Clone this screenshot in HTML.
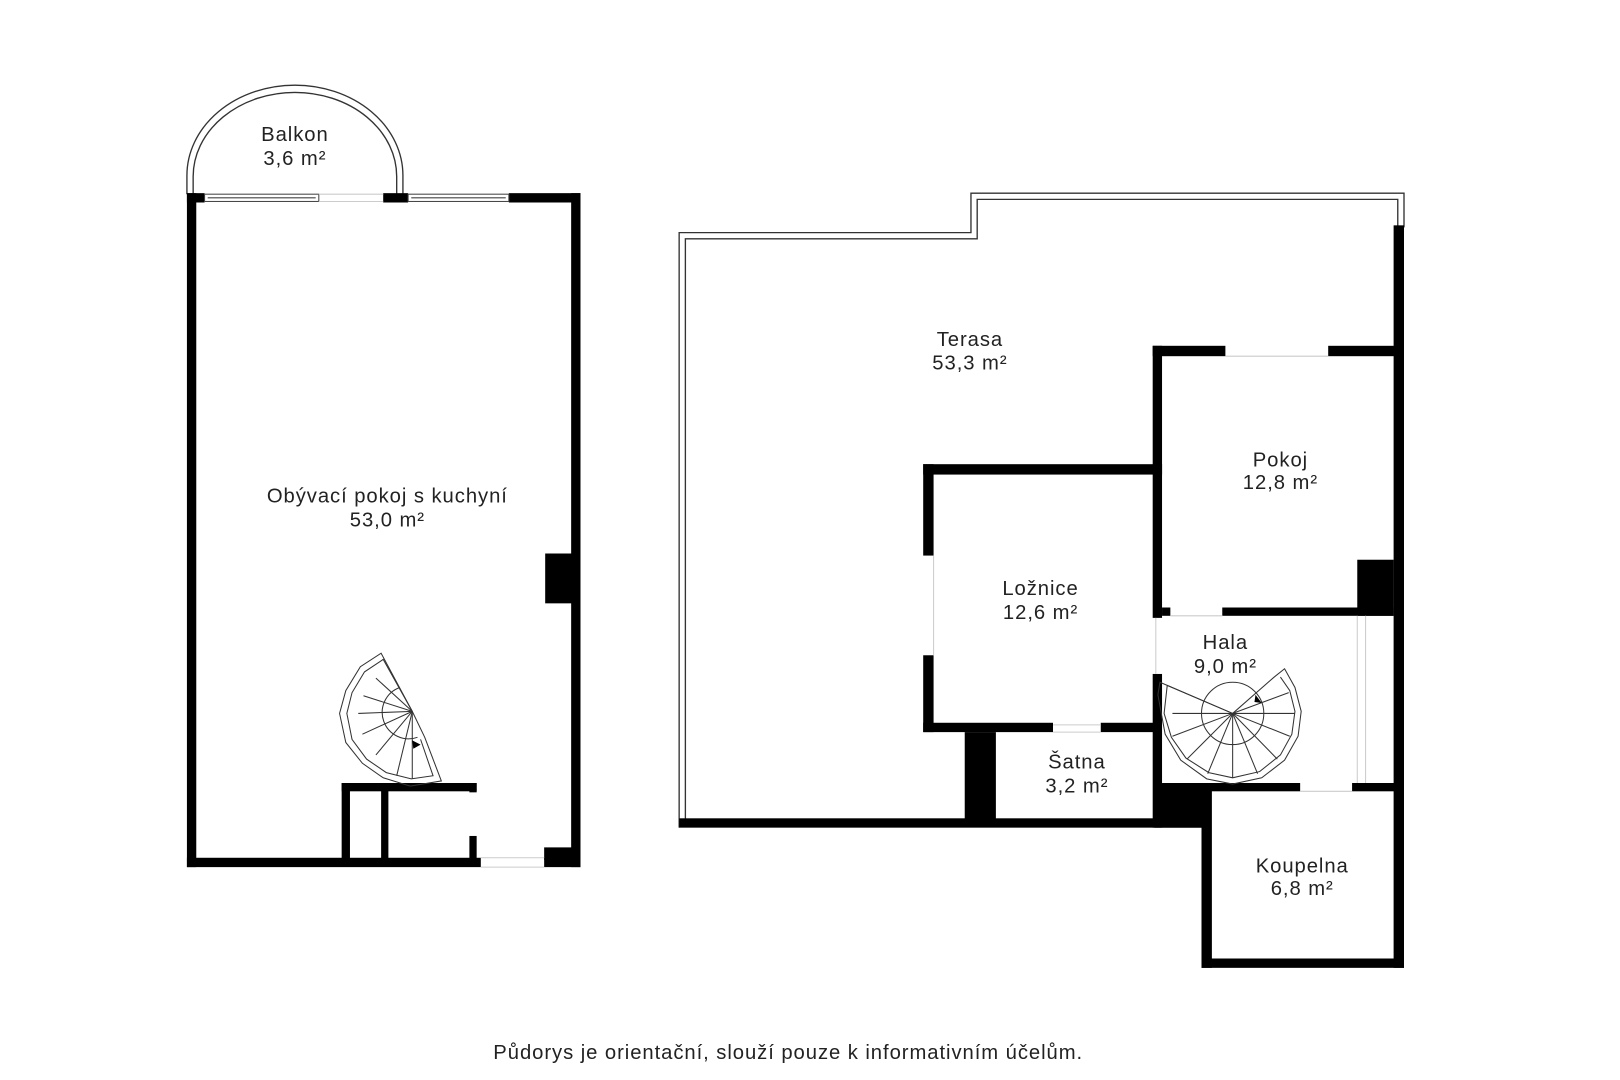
<!DOCTYPE html>
<html><head><meta charset="utf-8"><style>
html,body{margin:0;padding:0;background:#fff;}
svg{display:block;}
text{font-family:"Liberation Sans","DejaVu Sans",sans-serif;font-size:19.5px;fill:#222;text-anchor:middle;letter-spacing:0.9px;}
</style></head><body>
<svg width="1620" height="1080" viewBox="3 3 1560 1040" xmlns="http://www.w3.org/2000/svg">
<rect x="0" y="0" width="1570" height="1050" fill="#fff"/>
<!-- Balcony -->
<path d="M183 190 L183 172 A104 87 0 0 1 391 172 L391 190" fill="none" stroke="#333" stroke-width="1.3"/>
<path d="M189 190 L189 173 A98 81 0 0 1 385 173 L385 190" fill="none" stroke="#333" stroke-width="1.3"/>
<!-- Left building walls -->
<g fill="#000">
<rect x="183" y="189" width="17" height="9"/>
<rect x="372" y="189" width="24" height="9"/>
<rect x="493" y="189" width="69" height="9"/>
<rect x="183" y="189" width="9" height="649"/>
<rect x="553" y="189" width="9" height="649"/>
<rect x="183" y="829" width="283" height="9"/>
<rect x="527" y="829" width="35" height="9"/>
<rect x="527" y="819" width="30" height="12"/>
<rect x="528" y="536" width="27" height="48"/>
<rect x="332" y="757" width="130" height="8"/>
<rect x="332" y="757" width="8" height="75"/>
<rect x="370" y="757" width="7" height="75"/>
<rect x="455" y="757" width="7" height="9"/>
<rect x="455" y="808" width="7" height="24"/>
</g>
<g fill="none" stroke="#444" stroke-width="1">
<rect x="200" y="190" width="110" height="7"/><line x1="203" y1="193.5" x2="307" y2="193.5"/>
<rect x="396" y="190" width="97" height="7"/><line x1="399" y1="193.5" x2="490" y2="193.5"/>
<line x1="310" y1="190" x2="372" y2="190" stroke="#ccc"/><line x1="310" y1="197" x2="372" y2="197" stroke="#ccc"/>
<line x1="466" y1="829" x2="527" y2="829" stroke="#ccc"/><line x1="466" y1="838" x2="527" y2="838" stroke="#ccc"/>
</g>
<!-- Left spiral stair -->
<g fill="none" stroke="#333" stroke-width="1">
<path d="M400 688 L370 632 L350 645 L336 668 L330 690 L336 718 L352 738 L372 752 L398 760 L428 755 L412 713 Z"/>
<path d="M400 688 L372 638 L354 650 L342 670 L337 690 L342 715 L356 734 L375 747 L399 753 L420 750 L408 715"/>
<line x1="400" y1="688" x2="365" y2="656"/><line x1="400" y1="688" x2="353" y2="673"/>
<line x1="400" y1="688" x2="348" y2="690"/><line x1="400" y1="688" x2="352" y2="710"/>
<line x1="400" y1="688" x2="365" y2="730"/><line x1="400" y1="688" x2="385" y2="750"/>
<line x1="400" y1="688" x2="400" y2="753"/>
<path d="M388 665 A25 25 0 0 0 405 713"/>
</g>
<path d="M400 716 L408 720 L401 724 Z" fill="#000"/>
<!-- Right building: terrace outline -->
<path d="M657 800 L657 227 L938 227 L938 189 L1355 189 L1355 222" fill="none" stroke="#333" stroke-width="1.3"/>
<path d="M663 796 L663 233 L944 233 L944 195 L1349 195 L1349 222" fill="none" stroke="#333" stroke-width="1.3"/>
<g fill="#000">
<rect x="1345" y="220" width="10" height="715"/>
<rect x="657" y="791" width="510" height="9"/>
<rect x="1113" y="336" width="70" height="10"/>
<rect x="1282" y="336" width="73" height="10"/>
<rect x="1113" y="336" width="9" height="124"/>
<rect x="892" y="450" width="230" height="10"/>
<rect x="892" y="450" width="10" height="88"/>
<rect x="892" y="634" width="10" height="74"/>
<rect x="892" y="699" width="125" height="9"/>
<rect x="1063" y="699" width="55" height="9"/>
<rect x="1113" y="450" width="9" height="148"/>
<rect x="1113" y="652" width="9" height="148"/>
<rect x="1122" y="588" width="8" height="8"/>
<rect x="1180" y="588" width="165" height="8"/>
<rect x="1310" y="542" width="35" height="54"/>
<rect x="1122" y="757" width="133" height="8"/>
<rect x="1305" y="757" width="50" height="8"/>
<rect x="932" y="708" width="30" height="90"/>
<rect x="1115" y="758" width="53" height="42"/>
<rect x="1160" y="758" width="10" height="177"/>
<rect x="1160" y="926" width="195" height="9"/>
</g>
<g stroke="#ccc" stroke-width="1" fill="none">
<line x1="1183" y1="346" x2="1282" y2="346"/>
<line x1="902" y1="538" x2="902" y2="634"/>
<line x1="1017" y1="708" x2="1063" y2="708"/><line x1="1017" y1="701" x2="1063" y2="701"/>
<line x1="1130" y1="596" x2="1180" y2="596"/>
<line x1="1116" y1="598" x2="1116" y2="652"/>
<line x1="1310" y1="596" x2="1310" y2="757"/><line x1="1318" y1="596" x2="1318" y2="757"/>
<line x1="1255" y1="765" x2="1305" y2="765"/>
</g>
<!-- Right spiral stair -->
<g fill="none" stroke="#333" stroke-width="1">
<path d="M1190 690 L1120 660 L1118 672 L1125 710 L1140 735 L1165 753 L1190 758 L1218 752 L1240 735 L1253 712 L1256 688 L1250 665 L1240 647 L1230 655 L1190 690"/>
<path d="M1190 690 L1127 663 L1124 690 L1131 713 L1145 733 L1167 747 L1190 752 L1216 746 L1236 730 L1247 710 L1250 688 L1245 668 L1236 655"/>
<line x1="1190" y1="690" x2="1250" y2="690"/><line x1="1190" y1="690" x2="1132" y2="690"/>
<line x1="1190" y1="690" x2="1244" y2="670"/>
<line x1="1190" y1="690" x2="1245" y2="712"/><line x1="1190" y1="690" x2="1233" y2="734"/>
<line x1="1190" y1="690" x2="1214" y2="748"/><line x1="1190" y1="690" x2="1190" y2="752"/>
<line x1="1190" y1="690" x2="1166" y2="748"/><line x1="1190" y1="690" x2="1146" y2="734"/>
<line x1="1190" y1="690" x2="1132" y2="712"/>
<circle cx="1190" cy="690" r="30"/>
</g>
<path d="M1212 672 L1218 680 L1211 679 Z" fill="#000"/>
<!-- Labels -->
<text x="287" y="139">Balkon</text><text x="287" y="162">3,6 m²</text>
<text x="376" y="487">Obývací pokoj s kuchyní</text><text x="376" y="510">53,0 m²</text>
<text x="937" y="336">Terasa</text><text x="937" y="359">53,3 m²</text>
<text x="1236" y="452">Pokoj</text><text x="1236" y="474">12,8 m²</text>
<text x="1005" y="576">Ložnice</text><text x="1005" y="599">12,6 m²</text>
<text x="1183" y="628">Hala</text><text x="1183" y="651">9,0 m²</text>
<text x="1040" y="743">Šatna</text><text x="1040" y="766">3,2 m²</text>
<text x="1257" y="843">Koupelna</text><text x="1257" y="865">6,8 m²</text>
<text x="762" y="1023">Půdorys je orientační, slouží pouze k informativním účelům.</text>
</svg>
</body></html>
